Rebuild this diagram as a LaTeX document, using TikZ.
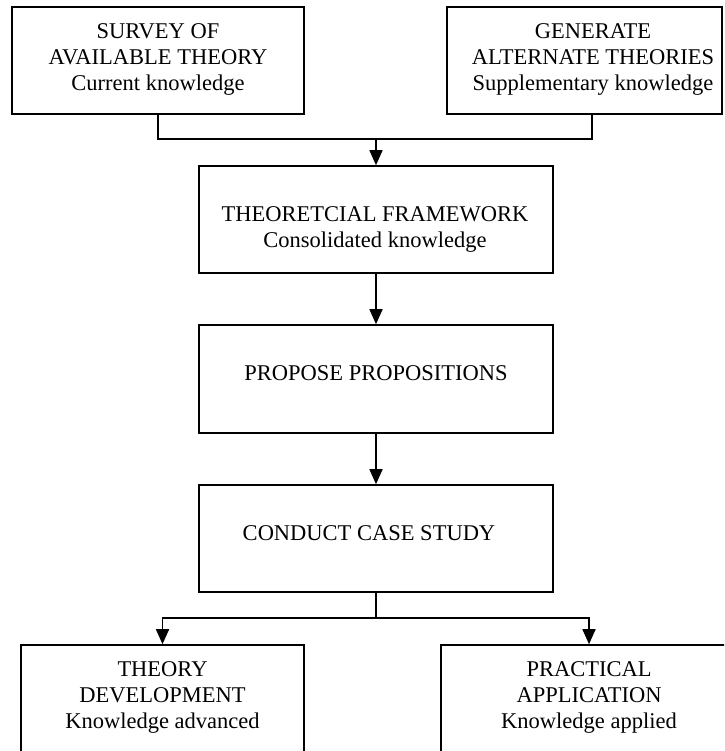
\documentclass[tikz,border=0pt]{standalone}
\usepackage{fontspec}
\setmainfont{Liberation Serif}
\usetikzlibrary{arrows.meta}
\begin{document}
\begin{tikzpicture}[x=1pt,y=-1pt,
  box/.style={draw, line width=1.6pt, inner sep=0pt},
  caption/.style={align=center, inner sep=0pt, font=\fontsize{22.5}{26}\selectfont},
  wire/.style={line width=1.6pt},
  flow/.style={wire, -{Triangle[length=15pt,width=13pt]}}]
\clip (0,0) rectangle (724,751);
\fill[white] (0,0) rectangle (724,751);

% frames of the stages
\node[box, minimum width=292pt, minimum height=107pt] (survey) at (158,60.5) {};
\node[box, minimum width=275pt, minimum height=107pt] (generate) at (584.5,60.5) {};
\node[box, minimum width=354pt, minimum height=107pt] (framework) at (376,219.5) {};
\node[box, minimum width=354pt, minimum height=108pt] (propose) at (376,379) {};
\node[box, minimum width=354pt, minimum height=107pt] (conduct) at (376,538.5) {};
\node[box, minimum width=283pt, minimum height=110pt] (theory) at (162.5,700) {};
\node[box, minimum width=296pt, minimum height=110pt] (practical) at (589,700) {};

% stage texts
\node[caption] (surveyT) at (158,59) {SURVEY OF\\AVAILABLE THEORY\\Current knowledge};
\node[caption] (generateT) at (593,59) {GENERATE\\ALTERNATE THEORIES\\Supplementary knowledge};
\node[caption] (frameworkT) at (375,229) {THEORETCIAL FRAMEWORK\\Consolidated knowledge};
\node[caption] (proposeT) at (376,373.5) {PROPOSE PROPOSITIONS};
\node[caption] (conductT) at (369,533) {CONDUCT CASE STUDY};
\node[caption] (theoryT) at (162.5,697) {THEORY\\DEVELOPMENT\\Knowledge advanced};
\node[caption] (practicalT) at (589,697) {PRACTICAL\\APPLICATION\\Knowledge applied};

% junction points
\coordinate (joinTop) at (376,139);
\coordinate (joinBottom) at (376,618);

% connectors
\draw[wire] (survey.south) |- (joinTop) -| ([xshift=7.5pt]generate.south);
\draw[flow] (joinTop) -- (framework.north);
\draw[flow] (framework.south) -- (propose.north);
\draw[flow] (propose.south) -- (conduct.north);
\draw[wire] (conduct.south) -- (joinBottom);
\draw[flow] (joinBottom) -| (theory.north);
\draw[flow] (joinBottom) -| (practical.north);
\end{tikzpicture}
\end{document}
